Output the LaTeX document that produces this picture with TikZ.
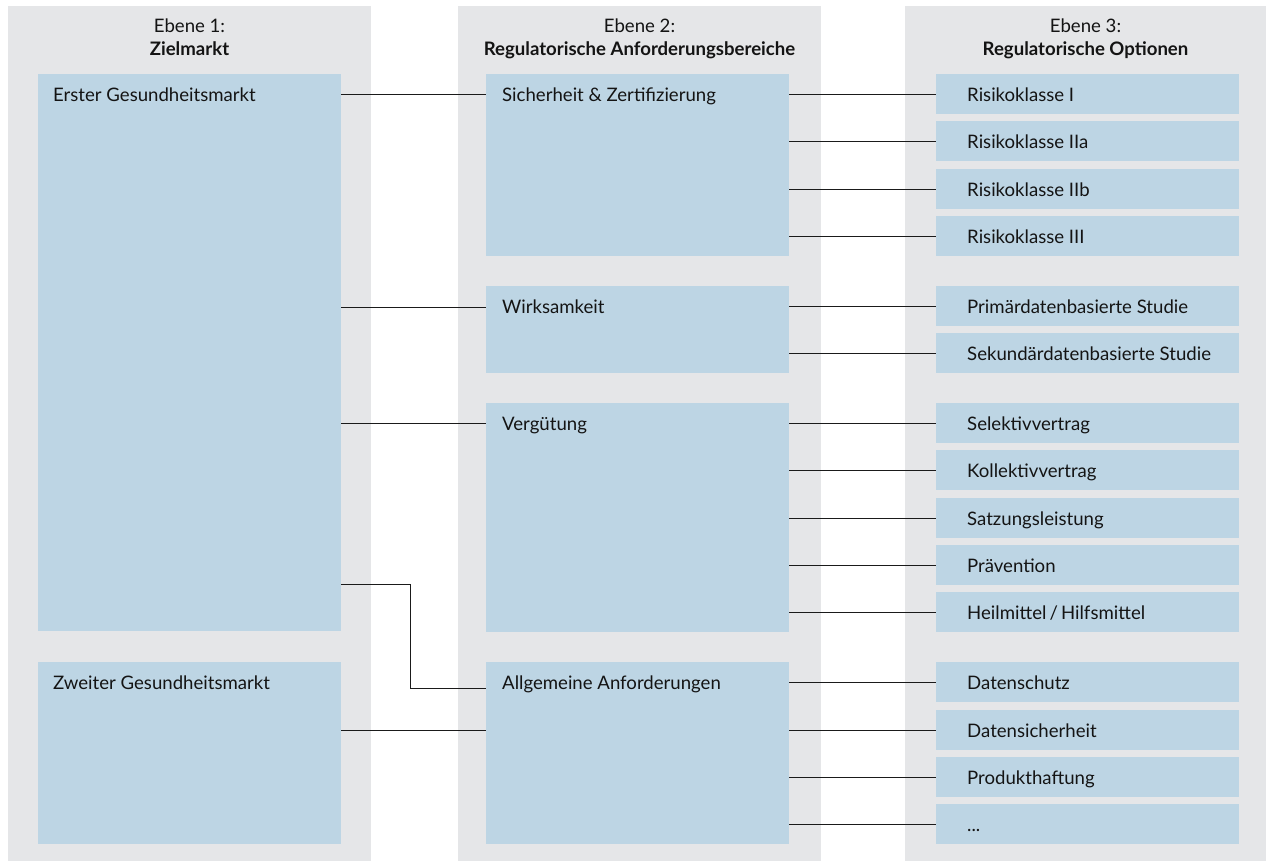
\documentclass[tikz,border=0pt]{standalone}
\usepackage{fontspec}
\setmainfont{Lato}
\definecolor{greycol}{HTML}{E5E6E8}
\definecolor{bluecol}{HTML}{BDD5E4}
\definecolor{linecol}{HTML}{1A1A1A}
\definecolor{txtcol}{HTML}{141414}
\tikzset{
  greybox/.style={fill=greycol, draw=none, inner sep=0pt, outer sep=0pt, anchor=north west},
  bluebox/.style={fill=bluecol, draw=none, inner sep=0pt, outer sep=0pt, anchor=north west},
  lbl/.style={font=\fontsize{18.6}{22}\selectfont, text=txtcol, anchor=base west, inner sep=0pt},
  head/.style={font=\fontsize{18.6}{22}\selectfont, text=txtcol, anchor=base, inner sep=0pt},
  conn/.style={draw=linecol, line width=1.6pt},
}
\newcommand\bluerect[7]{%
  \node[bluebox, minimum width=#4pt, minimum height=#5pt] (#1) at (#2,#3) {};
  \node[lbl] (#1-t) at ([xshift=#6pt, yshift=-27.5pt]#1.north west) {#7};
}
\begin{document}
\begin{tikzpicture}[x=1pt,y=-1pt]
\useasboundingbox (0,0) rectangle (1266,861);
% columns
\node[greybox, minimum width=363pt, minimum height=855pt] (c1) at (8,6) {};
\node[greybox, minimum width=363pt, minimum height=855pt] (c2) at (458,6) {};
\node[greybox, minimum width=361pt, minimum height=855pt] (c3) at (905,6) {};
% headers
\node[head] (h1) at (189.5,32.5) {Ebene 1:};
\node[head] (h1b) at (189.5,56) {\bfseries Zielmarkt};
\node[head] (h2) at (639.5,32.5) {Ebene 2:};
\node[head] (h2b) at (639.5,56) {\bfseries Regulatorische Anforderungsbereiche};
\node[head] (h3) at (1085.5,32.5) {Ebene 3:};
\node[head] (h3b) at (1085.5,56) {\bfseries Regulatorische Optionen};
% level 1
\bluerect{erster}{38}{74}{303}{557}{15}{Erster Gesundheitsmarkt}
\bluerect{zweiter}{38}{662}{303}{182}{15}{Zweiter Gesundheitsmarkt}
% level 2
\bluerect{sich}{486}{74}{303}{182}{16}{Sicherheit \& Zertifizierung}
\bluerect{wirk}{486}{286}{303}{87}{16}{Wirksamkeit}
\bluerect{verg}{486}{403}{303}{229}{16}{Vergütung}
\bluerect{allg}{486}{662}{303}{182}{16}{Allgemeine Anforderungen}
% level 3
\bluerect{r1}{936}{74}{303}{40}{31}{Risikoklasse I}
\bluerect{r2}{936}{121}{303}{40}{31}{Risikoklasse IIa}
\bluerect{r3}{936}{169}{303}{40}{31}{Risikoklasse IIb}
\bluerect{r4}{936}{216}{303}{40}{31}{Risikoklasse III}
\bluerect{w1}{936}{286}{303}{40}{31}{Primärdatenbasierte Studie}
\bluerect{w2}{936}{333}{303}{40}{31}{Sekundärdatenbasierte Studie}
\bluerect{v1}{936}{403}{303}{40}{31}{Selektivvertrag}
\bluerect{v2}{936}{450}{303}{40}{31}{Kollektivvertrag}
\bluerect{v3}{936}{498}{303}{40}{31}{Satzungsleistung}
\bluerect{v4}{936}{545}{303}{40}{31}{Prävention}
\bluerect{v5}{936}{592}{303}{40}{31}{Heilmittel\,/\,Hilfsmittel}
\bluerect{a1}{936}{662}{303}{40}{31}{Datenschutz}
\bluerect{a2}{936}{710}{303}{40}{31}{Datensicherheit}
\bluerect{a3}{936}{757}{303}{40}{31}{Produkthaftung}
\bluerect{a4}{936}{804}{303}{40}{31}{...}
% connectors level 1 -> 2
\coordinate (sichin) at ([yshift=-20.5pt]sich.north west);
\coordinate (wirkin) at ([yshift=-21.5pt]wirk.north west);
\coordinate (vergin) at ([yshift=-20.5pt]verg.north west);
\coordinate (allgin) at ([yshift=-26.5pt]allg.north west);
\coordinate (zweiout) at ([yshift=-68.5pt]zweiter.north east);
\coordinate (bend) at (410.5,584.5);
\draw[conn] (erster.east |- sichin) -- (sichin);
\draw[conn] (erster.east |- wirkin) -- (wirkin);
\draw[conn] (erster.east |- vergin) -- (vergin);
\draw[conn] (erster.east |- bend) -- (bend) |- (allgin);
\draw[conn] (zweiout) -- (allg.west |- zweiout);
% connectors level 2 -> 3
\foreach \c in {r1,r2,r3,r4}{\draw[conn] (sich.east |- \c.west) ++(0,0.5) -- ([yshift=-0.5pt]\c.west);}
\foreach \c in {w1,w2}{\draw[conn] (wirk.east |- \c.west) ++(0,0.5) -- ([yshift=-0.5pt]\c.west);}
\foreach \c in {v1,v2,v3,v4,v5}{\draw[conn] (verg.east |- \c.west) ++(0,0.5) -- ([yshift=-0.5pt]\c.west);}
\foreach \c in {a1,a2,a3,a4}{\draw[conn] (allg.east |- \c.west) ++(0,0.5) -- ([yshift=-0.5pt]\c.west);}
\end{tikzpicture}
\end{document}
